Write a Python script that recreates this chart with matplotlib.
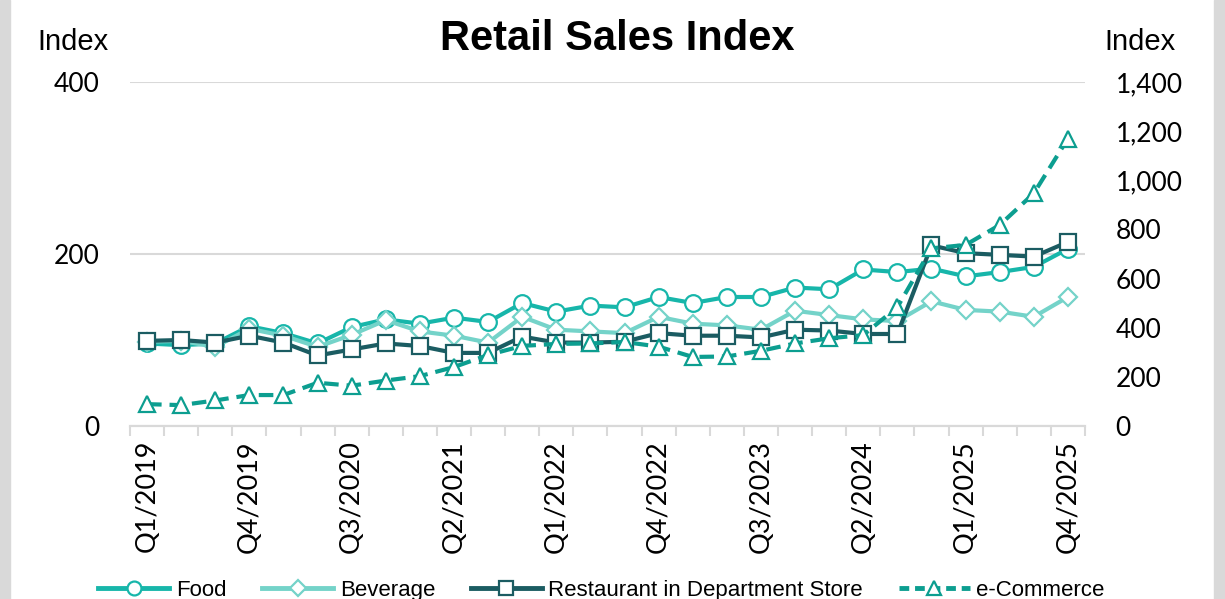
import matplotlib.pyplot as plt
import matplotlib.ticker as mticker
from matplotlib.lines import Line2D
from matplotlib.patches import Rectangle
import numpy as np

# quarterly data, Q1/2019 .. Q4/2025
quarters = ['Q%d/%d' % (q, y) for y in range(2019, 2026) for q in range(1, 5)]
food = [96, 94, 96, 116, 108, 96, 115, 124, 119, 126, 121, 143, 133, 140,
        138, 150, 143, 150, 150, 161, 159, 182, 179, 183, 174, 179, 185, 206]
beverage = [98, 99, 92, 113, 105, 92, 106, 123, 110, 105, 97, 127, 112, 110,
            108, 127, 119, 117, 112, 134, 129, 124, 122, 145, 135, 133, 127, 150]
restaurant = [99, 100, 97, 105, 97, 82, 89, 96, 93, 85, 85, 104, 97, 97,
              98, 108, 105, 105, 103, 112, 111, 107, 107, 210, 201, 199, 197, 214]
ecommerce = [89, 85, 104, 126, 126, 176, 164, 185, 203, 240, 289, 326, 334, 336,
             342, 323, 281, 283, 306, 336, 357, 370, 484, 723, 737, 818, 947, 1170]

c_food = '#17B6AA'
c_bev = '#74D3C9'
c_rest = '#1B5C62'
c_ecom = '#0C9E90'
grid_c = '#D9D9D9'
num_font = ['Lato', 'DejaVu Sans']
lbl_font = ['Liberation Sans Narrow', 'Liberation Sans']

x = np.arange(len(quarters))

fig = plt.figure(figsize=(12.25, 5.99), dpi=100)
ax = fig.add_axes([0.1061, 0.2888, 0.7796, 0.5743])
ax2 = ax.twinx()

ax.plot(x, food, color=c_food, lw=3, marker='o', ms=12, mfc='white', mec=c_food, mew=1.6, label='Food')
ax.plot(x, beverage, color=c_bev, lw=3, marker='D', ms=9, mfc='white', mec=c_bev, mew=1.6, label='Beverage')
ax.plot(x, restaurant, color=c_rest, lw=3, marker='s', ms=11, mfc='white', mec=c_rest, mew=1.6,
        label='Restaurant in Department Store')
ax2.plot(x, ecommerce, color=c_ecom, lw=3, ls=(0, (3.5, 1.9)), marker='^', ms=12, mfc='white', mec=c_ecom,
         mew=1.6, label='e-Commerce')

ax.set_xlim(-0.5, len(quarters) - 0.5)
ax.set_ylim(0, 400)
ax2.set_ylim(0, 1400)
ax.set_yticks([0, 200, 400])
ax2.set_yticks(np.arange(0, 1401, 200))
ax2.yaxis.set_major_formatter(mticker.FuncFormatter(lambda v, p: '{:,.0f}'.format(v)))

ax.set_xticks(x[::3])
ax.set_xticklabels(quarters[::3], rotation=90, fontsize=19.5, family=num_font)
ax.set_xticks(np.arange(-0.5, len(quarters), 1), minor=True)
ax.tick_params(axis='x', which='major', length=0, pad=10)
ax.tick_params(axis='x', which='minor', length=7, color=grid_c, width=1.5)
ax.tick_params(axis='y', length=0, pad=22)
ax2.tick_params(axis='y', length=0, pad=22)
for t in ax.get_yticklabels() + ax2.get_yticklabels():
    t.set_fontsize(19)
    t.set_family(num_font)

ax.yaxis.grid(True, color=grid_c, lw=1.5)
ax.set_axisbelow(True)
for a in (ax, ax2):
    for s in ('top', 'left', 'right'):
        a.spines[s].set_visible(False)
    a.spines['bottom'].set_color(grid_c)
    a.spines['bottom'].set_linewidth(1.5)

fig.text(0.504, 0.935, 'Retail Sales Index', ha='center', va='center', fontsize=30,
         fontweight='bold', family=['Liberation Sans', 'DejaVu Sans'])
fig.text(0.060, 0.930, 'Index', ha='center', va='center', fontsize=21, family=lbl_font)
fig.text(0.931, 0.930, 'Index', ha='center', va='center', fontsize=21, family=lbl_font)

handles = [
    Line2D([], [], color=c_food, lw=3.5, marker='o', ms=10, mfc='white', mec=c_food, mew=1.6),
    Line2D([], [], color=c_bev, lw=3.5, marker='D', ms=8, mfc='white', mec=c_bev, mew=1.6),
    Line2D([], [], color=c_rest, lw=3.5, marker='s', ms=10, mfc='white', mec=c_rest, mew=1.6),
    Line2D([], [], color=c_ecom, lw=3.5, ls=(0, (2, 1.2)), marker='^', ms=10, mfc='white', mec=c_ecom, mew=1.6),
]
labels = ['Food', 'Beverage', 'Restaurant in Department Store', 'e-Commerce']
fig.legend(handles, labels, loc='center', bbox_to_anchor=(0.491, 0.015), ncol=4, frameon=False,
           handlelength=3.2, columnspacing=1.6, handletextpad=0.3, prop={'family': lbl_font, 'size': 16})

# chart border strips
fig.patches.append(Rectangle((0, 0), 0.008, 1, transform=fig.transFigure, color=grid_c, zorder=0))
fig.patches.append(Rectangle((0.991, 0), 0.009, 1, transform=fig.transFigure, color=grid_c, zorder=0))

plt.savefig('out.png', dpi=100)
